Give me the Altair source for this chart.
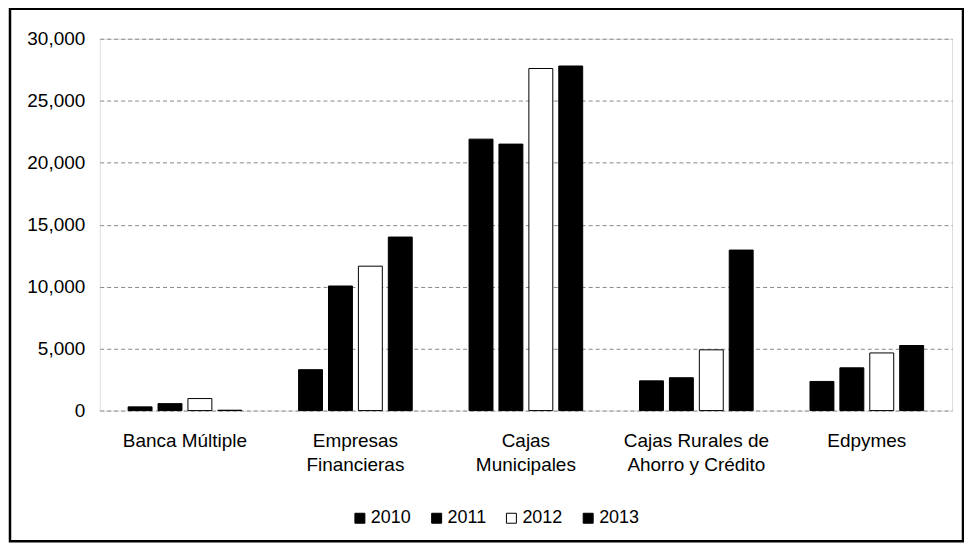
import altair as alt
import pandas as pd

categories = ["Banca Múltiple", "Empresas\nFinancieras", "Cajas\nMunicipales",
              "Cajas Rurales de\nAhorro y Crédito", "Edpymes"]
years = ["2010", "2011", "2012", "2013"]
v2010 = [300, 3300, 21900, 2400, 2350]
v2011 = [560, 10050, 21500, 2650, 3450]
v2012 = [970, 11650, 27600, 4900, 4650]
v2013 = [30, 14000, 27800, 12950, 5250]
fills = ["#000000", "#000000", "#ffffff", "#000000"]

rows = []
for i, c in enumerate(categories):
    for y, vals in zip(years, [v2010, v2011, v2012, v2013]):
        rows.append({"cat": c, "year": y, "value": vals[i]})
df = pd.DataFrame(rows)

W, H = 855, 373
FONT = "Liberation Sans"

bars = alt.Chart(df).mark_bar(stroke="black", strokeWidth=1).encode(
    x=alt.X("cat:N", sort=categories,
            scale=alt.Scale(paddingInner=0, paddingOuter=0),
            axis=alt.Axis(title=None, labelAngle=0, ticks=False, domain=False,
                          labelExpr="split(datum.value, '\\n')",
                          labelFont=FONT, labelFontSize=19, labelColor="black",
                          labelPadding=30, labelLineHeight=24, labelBaseline="middle")),
    xOffset=alt.XOffset("year:N", sort=years,
                        scale=alt.Scale(paddingInner=0.2, paddingOuter=0.95)),
    y=alt.Y("value:Q", scale=alt.Scale(domain=[0, 30000], nice=False),
            axis=alt.Axis(title=None, values=[0, 5000, 10000, 15000, 20000, 25000, 30000],
                          format=",d", ticks=False, domain=False,
                          labelFont=FONT, labelFontSize=19, labelColor="black",
                          labelPadding=15,
                          grid=True, gridColor="#888888", gridDash=[4, 3], gridWidth=1)),
    fill=alt.Fill("year:N", sort=years,
                  scale=alt.Scale(domain=years, range=fills),
                  legend=alt.Legend(title=None, orient="none", direction="horizontal",
                                    legendX=252, legendY=472,
                                    symbolType="square", symbolSize=100,
                                    symbolStrokeColor="black", symbolStrokeWidth=1,
                                    labelFont=FONT, labelFontSize=18, labelColor="black",
                                    columnPadding=16, labelOffset=2)),
)

border = alt.Chart(alt.Data(values=[{"a": 1}])).mark_rect(
    fill="transparent", stroke="black", strokeWidth=2.5
).encode(
    x=alt.value(-90), x2=alt.value(866), y=alt.value(-30), y2=alt.value(504)
)

chart = alt.layer(bars, border).properties(
    width=W, height=H,
    autosize=alt.AutoSizeParams(type="none"),
    padding={"left": 92, "top": 30, "right": 12, "bottom": 132},
).configure_view(stroke=None).configure(background="white")

chart.save("out.html", embed_options={"renderer": "svg", "actions": False})
